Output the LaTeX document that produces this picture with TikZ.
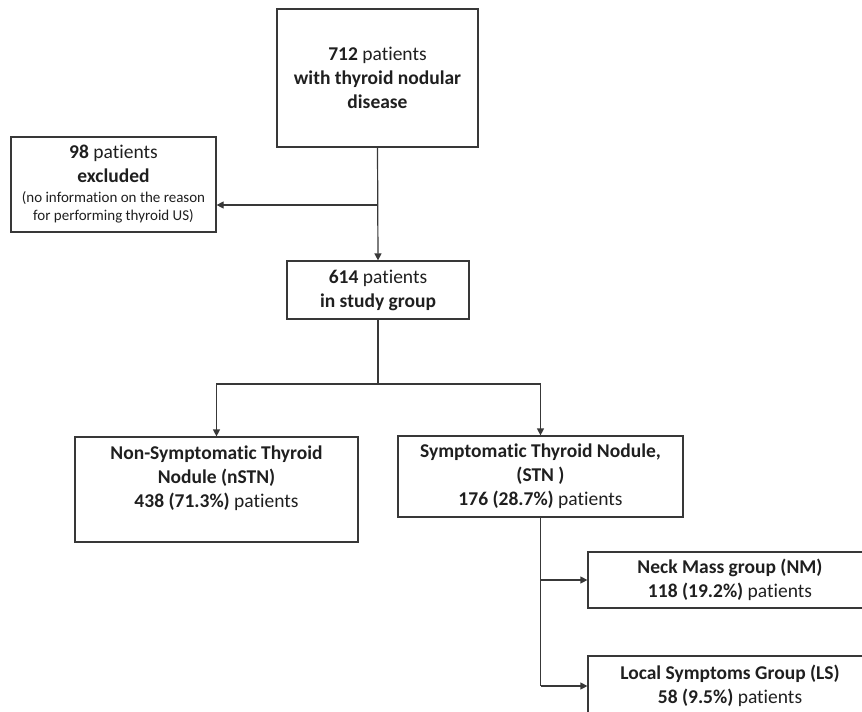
\documentclass[tikz,border=0pt]{standalone}
\usepackage{fontspec}
\setmainfont[Ligatures=NoCommon]{Carlito}
\usetikzlibrary{arrows.meta}
\begin{document}
\begin{tikzpicture}[x=1pt,y=-1pt,
  box/.style={draw=black!78, line width=1.2pt, inner sep=0pt, align=center, text=black!88,
    font=\fontsize{19.5}{24}\selectfont},
  txt/.style={inner sep=0pt, align=center, text=black!88, font=\fontsize{19.5}{24}\selectfont},
  conn/.style={draw=black!78, line width=1.2pt},
  arr/.style={conn, -{Triangle[length=7pt,width=7pt]}}]
\useasboundingbox (0,0) rectangle (862,712);
\clip (0,0) rectangle (862,712);

\node[box, minimum width=201pt, minimum height=138pt] (top) at (377.5,78)
  {{\bfseries 712} patients\\ \bfseries with thyroid nodular\\ \bfseries disease};
\node[box, minimum width=205pt, minimum height=95pt] (excl) at (113.5,184.5)
  {{\bfseries 98} patients\\ \bfseries excluded\\[-4pt]
   {\fontsize{15}{18}\selectfont (no information on the reason}\\[-6pt]
   {\fontsize{15}{18}\selectfont for performing thyroid US)}};
\node[box, minimum width=182pt, minimum height=58pt] (study) at (378,290)
  {{\bfseries 614} patients\\ \bfseries in study group};
\node[box, minimum width=283pt, minimum height=105pt] (nstn) at (216.5,489.5) {};
\node[txt] (nstnt) at (216.5,478)
  {\bfseries Non-Symptomatic Thyroid\\ \bfseries Nodule (nSTN)\\ {\bfseries 438 (71.3\%)} patients};
\node[box, minimum width=285pt, minimum height=81pt] (stn) at (540.5,476.5)
  {\bfseries Symptomatic Thyroid Nodule,\\ \bfseries (STN )\\ {\bfseries 176 (28.7\%)} patients};
\node[box, minimum width=284pt, minimum height=56pt] (nm) at (730,580)
  {\bfseries Neck Mass group (NM)\\ {\bfseries 118 (19.2\%)} patients};
\node[box, minimum width=284pt, minimum height=60pt] (ls) at (730,686)
  {\bfseries Local Symptoms Group (LS)\\ {\bfseries 58 (9.5\%)} patients};

\coordinate (j1) at (377.5,205);
\coordinate (split) at (378,384);
\draw[arr] (top.south) -- (study.north);
\draw[arr] (j1) -- (excl.east |- j1);
\draw[conn] (study.south) -- (split);
\draw[arr] (split) -| (nstn.north);
\draw[arr] (split) -| (stn.north);
\draw[conn] (stn.south) -- (stn.south |- ls.west);
\draw[arr] (stn.south |- nm.west) -- (nm.west);
\draw[arr] (stn.south |- ls.west) -- (ls.west);
\end{tikzpicture}
\end{document}
